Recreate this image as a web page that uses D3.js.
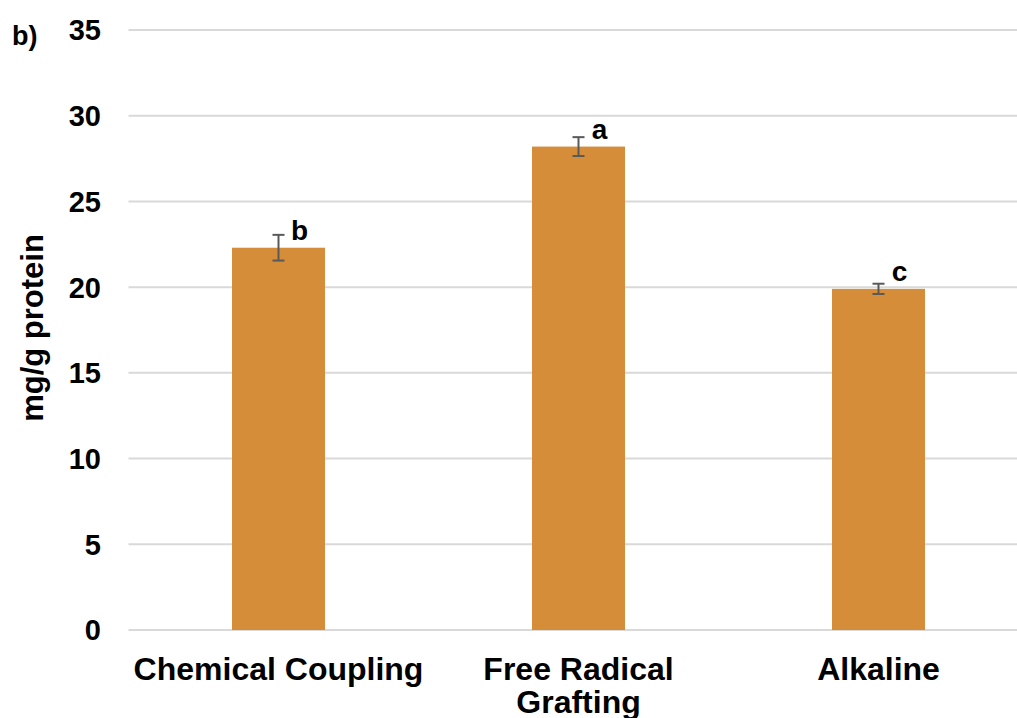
<!DOCTYPE html>
<html>
<head>
<meta charset="utf-8">
<script src="https://cdn.jsdelivr.net/npm/d3@7"></script>
<style>
  body { margin: 0; background: #fff; }
  text { font-family: "Liberation Sans", Arial, sans-serif; font-weight: bold; fill: #000; }
</style>
</head>
<body>
<svg id="drawing" width="1017" height="718"></svg>
<script>
const categories = [["Chemical Coupling"], ["Free Radical", "Grafting"], ["Alkaline"]];
const values = [22.3, 28.2, 19.9];
const errors = [0.75, 0.55, 0.3];
const letters = ["b", "a", "c"];
const yTicks = [0, 5, 10, 15, 20, 25, 30, 35];

const svg = d3.select("svg#drawing");

const x = d3.scaleBand()
   .domain(d3.range(categories.length))
   .range([128.5, 1028.5])
   .paddingInner(0.69)
   .paddingOuter(0.345);

const y = d3.scaleLinear().domain([0, 35]).range([630, 30]);

// gridlines
svg.append("g")
   .selectAll("line")
   .data(yTicks)
   .join("line")
   .attr("x1", 128.5)
   .attr("x2", 1028.5)
   .attr("y1", d => y(d))
   .attr("y2", d => y(d))
   .attr("stroke", "#d9d9d9")
   .attr("stroke-width", 2);

// y tick labels
svg.append("g")
   .selectAll("text")
   .data(yTicks)
   .join("text")
   .attr("x", 101)
   .attr("y", d => y(d))
   .attr("dy", "0.36em")
   .attr("text-anchor", "end")
   .attr("font-size", 29)
   .text(d => d);

const data = values.map((v, i) => ({ i, v, e: errors[i], l: letters[i], c: categories[i] }));

// bars
svg.append("g")
   .selectAll("rect")
   .data(data)
   .join("rect")
   .attr("x", d => x(d.i))
   .attr("width", x.bandwidth())
   .attr("y", d => y(d.v))
   .attr("height", d => y(0) - y(d.v))
   .attr("fill", "#d68d3a");

// error bars
const err = svg.append("g")
   .attr("stroke", "#595959")
   .attr("stroke-width", 2)
   .selectAll("g")
   .data(data)
   .join("g")
   .attr("transform", d => `translate(${x(d.i) + x.bandwidth() / 2},0)`);
err.append("line")
   .attr("y1", d => y(d.v + d.e)).attr("y2", d => y(d.v - d.e));
err.append("line")
   .attr("x1", -6).attr("x2", 6)
   .attr("y1", d => y(d.v + d.e)).attr("y2", d => y(d.v + d.e));
err.append("line")
   .attr("x1", -6).attr("x2", 6)
   .attr("y1", d => y(d.v - d.e)).attr("y2", d => y(d.v - d.e));

// significance letters
svg.append("g")
   .selectAll("text")
   .data(data)
   .join("text")
   .attr("x", d => x(d.i) + x.bandwidth() / 2 + 21)
   .attr("y", d => y(d.v) - 8)
   .attr("text-anchor", "middle")
   .attr("font-size", 28)
   .text(d => d.l);

// category labels
const cat = svg.append("g")
   .selectAll("text")
   .data(data)
   .join("text")
   .attr("x", d => x(d.i) + x.bandwidth() / 2)
   .attr("y", 680)
   .attr("text-anchor", "middle")
   .attr("font-size", 32);
cat.selectAll("tspan")
   .data(d => d.c.map(t => ({ t, x: x(d.i) + x.bandwidth() / 2 })))
   .join("tspan")
   .attr("x", d => d.x)
   .attr("dy", (d, i) => i ? 33 : 0)
   .text(d => d.t);

// y axis title
svg.append("text")
   .attr("transform", "translate(43,328) rotate(-90)")
   .attr("text-anchor", "middle")
   .attr("font-size", 31)
   .text("mg/g protein");

// panel label
svg.append("text")
   .attr("x", 12)
   .attr("y", 45)
   .attr("font-size", 27)
   .text("b)");
</script>
</body>
</html>
